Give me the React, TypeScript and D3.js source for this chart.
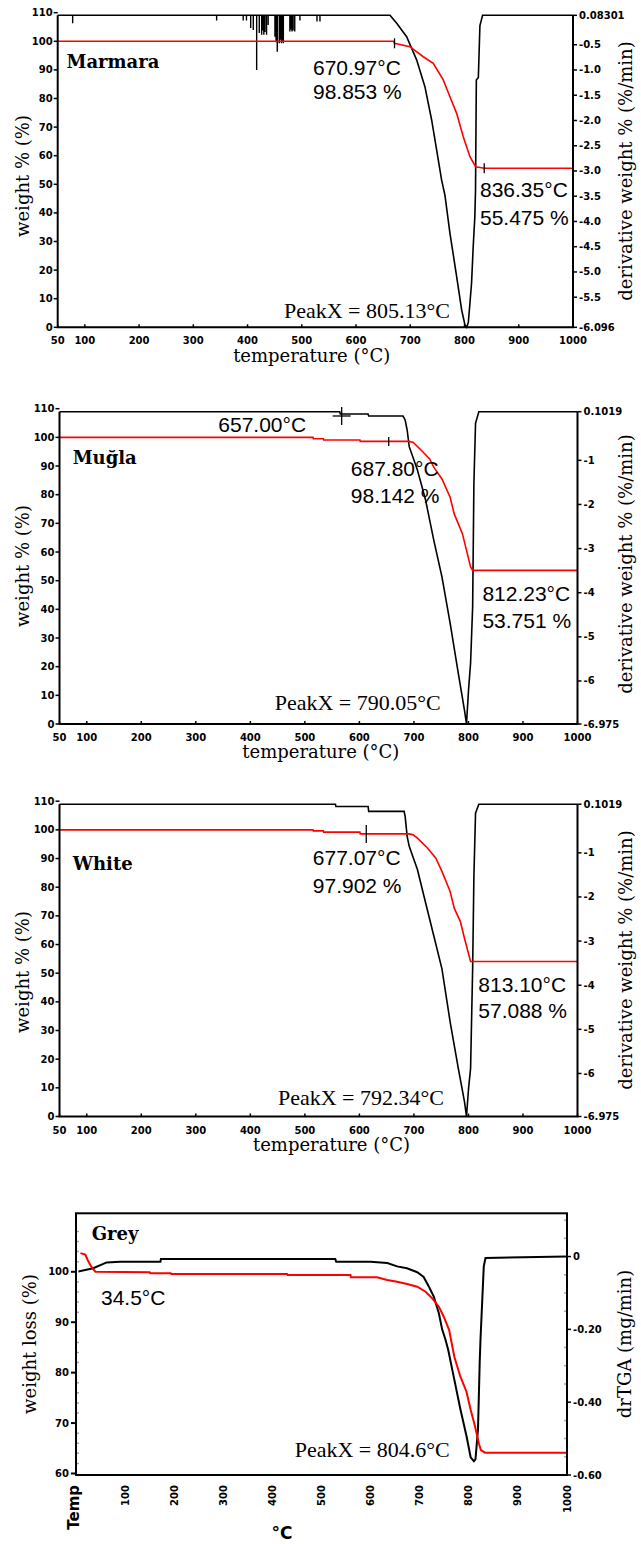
import React from 'react';
import * as d3 from 'd3';

const W = 641;
const H = 1544;

// ---------- shared ticks ----------
const tempTicks = [50, 100, 200, 300, 400, 500, 600, 700, 800, 900, 1000];
const weightTicks = [0, 10, 20, 30, 40, 50, 60, 70, 80, 90, 100, 110];

// ---------- Marmara ----------
const marmaraWeightT = [50, 669, 671, 699.3, 724, 742.3, 760.8, 773.1, 785.5, 797.7, 810, 820.5, 836.35, 1000];
const marmaraWeight = [100, 100, 99.3, 98.1, 94.6, 92.3, 86.5, 80.6, 74.8, 66.6, 59.65, 56.15, 55.6, 55.6];
const marmaraDtgT = [50, 662.6, 675, 693.3, 711.7, 727, 739.4, 748.6, 757.8, 763.9, 773.1, 785.5, 794.7, 800.8, 804, 807, 810, 813, 816, 819, 820.3, 821.8, 825.5, 828.4, 833.3, 1000];
const marmaraDtg = [0.08301, 0.08301, -0.075, -0.34, -0.8, -1.33, -1.99, -2.58, -3.18, -3.48, -4.23, -5.09, -5.75, -6.05, -6.096, -6.0, -5.62, -5.22, -4.5, -3.91, -3.38, -1.2, -1.15, -0.12, 0.08301, 0.08301];
const marmaraNoiseT = [77.6, 343, 392, 398, 405.8, 410.6, 416.8, 421.6, 426, 428, 430, 432, 435, 438, 450.5, 452.5, 454.8, 458.5, 460.5, 462.5, 464.5, 466, 478, 480, 482, 484, 487, 496.6, 528, 533.5];
const marmaraNoise = [-0.075, -0.02, -0.02, -0.02, -0.17, -0.21, -1.0, -0.27, -0.3, -0.22, -0.3, -0.25, -0.3, -0.11, -0.34, -0.45, -0.64, -0.47, -0.4, -0.47, -0.42, -0.47, -0.24, -0.2, -0.24, -0.22, -0.24, -0.02, -0.04, -0.04];
const marmaraDtgTicks = [0.08301, -0.5, -1.0, -1.5, -2.0, -2.5, -3.0, -3.5, -4.0, -4.5, -5.0, -5.5, -6.096];
const marmaraDtgLabels = ['0.08301', '-0.5', '-1.0', '-1.5', '-2.0', '-2.5', '-3.0', '-3.5', '-4.0', '-4.5', '-5.0', '-5.5', '-6.096'];
const marmaraMarkerT = [670.97, 836.35];

// ---------- Muğla ----------
const muglaWeightT = [50, 515, 515.5, 534, 534.5, 601, 601.5, 691.4, 698.8, 713.9, 728.9, 736.4, 751.4, 766.4, 773.9, 788.9, 803.9, 807.7, 1000];
const muglaWeight = [100, 100, 99.5, 99.5, 99.1, 99.1, 98.6, 98.6, 98.26, 95.4, 92.5, 89.6, 85.5, 79.1, 73.3, 66.4, 54.8, 53.6, 53.6];
const muglaDtgT = [50, 564, 565, 616, 617, 680, 683.9, 687.6, 691.4, 706.4, 721.4, 736.4, 751.4, 766.4, 781.4, 792.7, 796.4, 800.2, 803.9, 807.7, 810, 813, 819, 1000];
const muglaDtg = [0.1019, 0.1019, 0.05, 0.05, 0.004, 0.004, -0.086, -0.313, -0.69, -1.22, -1.9, -2.81, -3.64, -4.69, -5.83, -6.66, -6.975, -6.2, -5.6, -4.32, -1.52, -0.16, 0.1019, 0.1019];
const sixDtgTicks = [0.1019, -1, -2, -3, -4, -5, -6, -6.975];
const sixDtgLabels = ['0.1019', '-1', '-2', '-3', '-4', '-5', '-6', '-6.975'];
const muglaMarkerT = [653.8];
const muglaCrossT = [567.5];

// ---------- White ----------
const whiteWeightT = [50, 515, 515.5, 534, 534.5, 601, 601.5, 691.4, 698.8, 706.4, 725.2, 740.2, 751.4, 766.4, 773.9, 785.2, 792.7, 803.9, 1000];
const whiteWeight = [100, 100, 99.65, 99.65, 99.2, 99.2, 98.6, 98.6, 98.26, 97.1, 93.6, 90.1, 85.5, 78.5, 72.7, 68.0, 62.2, 54.1, 54.1];
const whiteDtgT = [50, 556, 557, 616, 617, 682, 683.9, 687.6, 691.4, 706.4, 721.4, 736.4, 751.4, 766.4, 781.4, 792.7, 796.4, 800.2, 803.9, 807.7, 810, 813, 819, 1000];
const whiteDtg = [0.1019, 0.1019, 0.05, 0.05, -0.06, -0.06, -0.176, -0.627, -0.852, -1.378, -2.13, -2.88, -3.63, -4.83, -5.886, -6.64, -6.975, -6.34, -5.89, -3.63, -1.53, -0.1, 0.1019, 0.1019];
const whiteMarkerT = [612.6];

// ---------- Grey ----------
const greyTempTicks = [100, 200, 300, 400, 500, 600, 700, 800, 900, 1000];
const greyWeightTicks = [60, 70, 80, 90, 100];
const greyDtgTicks = [0, -0.2, -0.4, -0.6];
const greyDtgLabels = ['0', '-0.20', '-0.40', '-0.60'];
const greyWeightT = [9, 19, 24, 29.5, 36, 39.7, 150, 151, 193, 194, 430, 431, 559, 560, 613, 633.8, 654, 674.5, 695, 712, 725.5, 739, 749, 760, 770.5, 782.9, 795.3, 803.9, 812, 820.4, 824.6, 833, 1000];
const greyWeight = [103.7, 103.4, 102.3, 101.3, 100.4, 100.0, 99.9, 99.7, 99.7, 99.55, 99.55, 99.36, 99.36, 98.9, 98.9, 98.37, 98.04, 97.58, 97.04, 96.05, 94.74, 93.08, 91.09, 88.45, 83.16, 79.19, 76.22, 72.59, 69.6, 65.98, 64.65, 64.12, 64.12];
const greyDtgT = [5, 35, 62.5, 90, 172, 173, 528, 530, 600, 634, 654, 674, 695, 708, 718.5, 728.7, 738.9, 745.7, 752.4, 758, 770.5, 783, 795.3, 803.9, 810.4, 813.6, 818.7, 822.2, 823.8, 830.5, 834, 1000];
const greyDtg = [-0.041, -0.032, -0.016, -0.014, -0.014, -0.007, -0.007, -0.014, -0.014, -0.018, -0.027, -0.032, -0.043, -0.056, -0.082, -0.11, -0.155, -0.2, -0.228, -0.256, -0.338, -0.42, -0.493, -0.552, -0.562, -0.557, -0.475, -0.291, -0.228, -0.027, -0.004, 0];

// ---------- styles ----------
const TICK_FONT = { fontFamily: '"DejaVu Sans", sans-serif', fontWeight: 700, fontSize: 10 };
const TITLE_FONT = { fontFamily: '"DejaVu Serif", serif', fontSize: 18 };
const NAME_FONT = { fontFamily: '"DejaVu Serif", serif', fontWeight: 700, fontSize: 18 };
const ANN_FONT = { fontFamily: '"Liberation Sans", Arial, sans-serif', fontSize: 21 };
const PEAK_FONT = { fontFamily: '"Liberation Serif", "Times New Roman", serif', fontSize: 22 };

function interp(xs: number[], ys: number[], x: number) {
  const i = d3.bisectLeft(xs, x);
  if (i <= 0) return ys[0];
  if (i >= xs.length) return ys[ys.length - 1];
  const t = (x - xs[i - 1]) / (xs[i] - xs[i - 1]);
  return ys[i - 1] + t * (ys[i] - ys[i - 1]);
}

type Ann = { text: string; x: number; y: number; peak?: boolean };

type PanelCfg = {
  left: number; right: number; top: number; bottom: number; over: number;
  wT: number[]; w: number[]; dT: number[]; d: number[];
  nT?: number[]; n?: number[];
  dtgDomain: [number, number]; dtgTicks: number[]; dtgLabels: string[];
  markers: number[]; markerHalf: number[]; crosses?: number[];
  name: string; nameX: number; nameY: number;
  anns: Ann[];
  leftTitleY: number; rightTitleY: number; bottomTitleX: number; bottomTitleY: number;
};

function TgaPanel({ c }: { c: PanelCfg }) {
  const x = d3.scaleLinear().domain([50, 1000]).range([c.left, c.right]);
  const yW = d3.scaleLinear().domain([0, 110]).range([c.bottom, c.top - c.over]);
  const yD = d3.scaleLinear().domain(c.dtgDomain).range([c.bottom, c.top]);
  const line = d3.line();
  const wPath = line(d3.zip(c.wT, c.w).map(([t, v]) => [x(t), yW(v)] as [number, number])) || '';
  const dPath = line(d3.zip(c.dT, c.d).map(([t, v]) => [x(t), yD(v)] as [number, number])) || '';
  const spikes = c.nT && c.n
    ? c.nT.map((t, i) => `M${x(t)},${yD(c.dtgDomain[1])}V${yD(c.n![i])}`).join('')
    : '';
  return (
    <g>
      <path d={dPath} fill="none" stroke="#000" strokeWidth={1.6} />
      {spikes && <path d={spikes} fill="none" stroke="#000" strokeWidth={1.4} />}
      <path d={wPath} fill="none" stroke="#ff0000" strokeWidth={1.6} />
      {c.markers.map((t, i) => {
        const yy = yW(interp(c.wT, c.w, t));
        return <line key={'m' + i} x1={x(t)} x2={x(t)} y1={yy - c.markerHalf[i]} y2={yy + c.markerHalf[i]} stroke="#000" strokeWidth={1.3} />;
      })}
      {(c.crosses || []).map((t, i) => {
        const yy = yD(interp(c.dT, c.d, t)) + 2;
        return (
          <g key={'c' + i} stroke="#000" strokeWidth={1.3}>
            <line x1={x(t)} x2={x(t)} y1={yy - 9} y2={yy + 9} />
            <line x1={x(t) - 9} x2={x(t) + 9} y1={yy} y2={yy} />
          </g>
        );
      })}
      {/* axes */}
      <path d={`M${c.left},${c.top}V${c.bottom}H${c.right}V${c.top}`} fill="none" stroke="#000" strokeWidth={2} />
      {weightTicks.map((v) => (
        <g key={'w' + v}>
          <line x1={c.left - 4} x2={c.left} y1={yW(v)} y2={yW(v)} stroke="#000" strokeWidth={1.5} />
          <text x={c.left - 5} y={yW(v)} dy="0.35em" textAnchor="end" style={TICK_FONT}>{v}</text>
        </g>
      ))}
      {tempTicks.map((t) => (
        <g key={'t' + t}>
          <line x1={x(t)} x2={x(t)} y1={c.bottom} y2={c.bottom - 3} stroke="#000" strokeWidth={1.5} />
          <text x={x(t)} y={c.bottom + 17} textAnchor="middle" style={TICK_FONT}>{t}</text>
        </g>
      ))}
      {c.dtgTicks.map((v, i) => (
        <g key={'d' + i}>
          <line x1={c.right} x2={c.right + 4} y1={yD(v)} y2={yD(v)} stroke="#000" strokeWidth={1.5} />
          <text x={c.right + 6} y={yD(v)} dy="0.35em" textAnchor="start" style={TICK_FONT}>{c.dtgLabels[i]}</text>
        </g>
      ))}
      <text transform={`translate(29,${c.leftTitleY}) rotate(-90)`} textAnchor="middle" style={TITLE_FONT}>weight % (%)</text>
      <text transform={`translate(632,${c.rightTitleY}) rotate(-90)`} textAnchor="middle" style={TITLE_FONT}>derivative weight % (%/min)</text>
      <text x={c.bottomTitleX} y={c.bottomTitleY} textAnchor="middle" style={TITLE_FONT}>temperature (°C)</text>
      <text x={c.nameX} y={c.nameY} style={NAME_FONT}>{c.name}</text>
      {c.anns.map((a, i) => (
        <text key={'a' + i} x={a.x} y={a.y} textAnchor={a.peak ? 'end' : 'start'} style={a.peak ? PEAK_FONT : ANN_FONT}>{a.text}</text>
      ))}
    </g>
  );
}

const panels: PanelCfg[] = [
  {
    left: 57.7, right: 573, top: 15.3, bottom: 327.3, over: 2.6,
    wT: marmaraWeightT, w: marmaraWeight, dT: marmaraDtgT, d: marmaraDtg,
    nT: marmaraNoiseT, n: marmaraNoise,
    dtgDomain: [-6.096, 0.08301], dtgTicks: marmaraDtgTicks, dtgLabels: marmaraDtgLabels,
    markers: marmaraMarkerT, markerHalf: [5, 5],
    name: 'Marmara', nameX: 66.5, nameY: 68,
    anns: [
      { text: '670.97°C', x: 313, y: 75 },
      { text: '98.853 %', x: 313, y: 99 },
      { text: '836.35°C', x: 480, y: 197 },
      { text: '55.475 %', x: 480, y: 225 },
      { text: 'PeakX = 805.13°C', x: 450, y: 318, peak: true },
    ],
    leftTitleY: 176, rightTitleY: 171, bottomTitleX: 311.7, bottomTitleY: 362,
  },
  {
    left: 59.5, right: 577.5, top: 411.7, bottom: 724, over: 3,
    wT: muglaWeightT, w: muglaWeight, dT: muglaDtgT, d: muglaDtg,
    dtgDomain: [-6.975, 0.1019], dtgTicks: sixDtgTicks, dtgLabels: sixDtgLabels,
    markers: muglaMarkerT, markerHalf: [4.5], crosses: muglaCrossT,
    name: 'Muğla', nameX: 72.7, nameY: 464,
    anns: [
      { text: '657.00°C', x: 218.3, y: 431.7 },
      { text: '687.80°C', x: 350.8, y: 476 },
      { text: '98.142 %', x: 350.8, y: 503.3 },
      { text: '812.23°C', x: 482.4, y: 600.7 },
      { text: '53.751 %', x: 482.4, y: 628.3 },
      { text: 'PeakX = 790.05°C', x: 440.7, y: 710, peak: true },
    ],
    leftTitleY: 566, rightTitleY: 564, bottomTitleX: 320.8, bottomTitleY: 758,
  },
  {
    left: 59.5, right: 577.5, top: 804.2, bottom: 1116.5, over: 3,
    wT: whiteWeightT, w: whiteWeight, dT: whiteDtgT, d: whiteDtg,
    dtgDomain: [-6.975, 0.1019], dtgTicks: sixDtgTicks, dtgLabels: sixDtgLabels,
    markers: whiteMarkerT, markerHalf: [9],
    name: 'White', nameX: 72.8, nameY: 870,
    anns: [
      { text: '677.07°C', x: 312.8, y: 865 },
      { text: '97.902 %', x: 312.8, y: 892.7 },
      { text: '813.10°C', x: 478.3, y: 991.7 },
      { text: '57.088 %', x: 478.3, y: 1018.3 },
      { text: 'PeakX = 792.34°C', x: 444, y: 1105, peak: true },
    ],
    leftTitleY: 972, rightTitleY: 960, bottomTitleX: 331.5, bottomTitleY: 1151,
  },
];

function GreyPanel() {
  const left = 76, right = 567, top = 1213.3, bottom = 1475;
  const x = d3.scaleLinear().domain([0, 1000]).range([left, right]);
  const yW = d3.scaleLinear().domain([59.7, 111.6]).range([bottom, top]);
  const yD = d3.scaleLinear().domain([-0.6, 0.1188]).range([bottom, top]);
  const line = d3.line();
  const wPath = line(d3.zip(greyWeightT, greyWeight).map(([t, v]) => [x(t), yW(v)] as [number, number])) || '';
  const dPath = line(d3.zip(greyDtgT, greyDtg).map(([t, v]) => [x(t), yD(v)] as [number, number])) || '';
  const minorW = d3.range(60, 111, 2).filter((v) => v % 10 !== 0);
  const minorD = d3.range(-0.55, 0.11, 0.05).filter((v) => Math.abs(Math.round(v * 5) - v * 5) > 0.01);
  return (
    <g>
      <path d={dPath} fill="none" stroke="#000" strokeWidth={2} />
      <path d={wPath} fill="none" stroke="#ff0000" strokeWidth={2} />
      <rect x={left} y={top} width={right - left} height={bottom - top} fill="none" stroke="#000" strokeWidth={2} />
      {minorW.map((v) => (
        <line key={'mw' + v} x1={left + 1} x2={left + 3} y1={yW(v)} y2={yW(v)} stroke="#aaa" strokeWidth={1.5} />
      ))}
      {minorD.map((v, i) => (
        <line key={'md' + i} x1={right - 3} x2={right - 1} y1={yD(v)} y2={yD(v)} stroke="#aaa" strokeWidth={1.5} />
      ))}
      {greyWeightTicks.map((v) => (
        <g key={'gw' + v}>
          <line x1={left - 5} x2={left} y1={yW(v)} y2={yW(v)} stroke="#000" strokeWidth={2} />
          <text x={left - 7} y={yW(v)} dy="0.35em" textAnchor="end" style={TICK_FONT}>{v}</text>
        </g>
      ))}
      {greyDtgTicks.map((v, i) => (
        <g key={'gd' + i}>
          <line x1={right} x2={right + 4} y1={yD(v)} y2={yD(v)} stroke="#000" strokeWidth={1.5} />
          <text x={right + 6} y={yD(v)} dy="0.35em" style={TICK_FONT}>{greyDtgLabels[i]}</text>
        </g>
      ))}
      {greyTempTicks.map((t) => (
        <text key={'gt' + t} transform={`translate(${x(t)},${bottom + 10}) rotate(-90)`} dy="0.35em" textAnchor="end" style={TICK_FONT}>{t}</text>
      ))}
      <text transform={`translate(${x(0) - 2},${bottom + 10}) rotate(-90)`} dy="0.35em" textAnchor="end" style={{ ...TICK_FONT, fontSize: 15 }}>Temp</text>
      <text x={282} y={1539} textAnchor="middle" style={{ fontFamily: '"DejaVu Sans", sans-serif', fontWeight: 700, fontSize: 17 }}>°C</text>
      <text transform={`translate(36,1344) rotate(-90)`} textAnchor="middle" style={TITLE_FONT}>weight loss (%)</text>
      <text transform={`translate(631,1344) rotate(-90)`} textAnchor="middle" style={TITLE_FONT}>drTGA (mg/min)</text>
      <text x={91.7} y={1240} style={NAME_FONT}>Grey</text>
      <text x={101} y={1305} style={ANN_FONT}>34.5°C</text>
      <text x={449.7} y={1457} textAnchor="end" style={PEAK_FONT}>PeakX = 804.6°C</text>
    </g>
  );
}

export default function App() {
  return (
    <svg width={W} height={H} viewBox={`0 0 ${W} ${H}`}
      style={{ position: 'absolute', left: 0, top: 0, background: '#fff', display: 'block' }}>
      <rect x={0} y={0} width={W} height={H} fill="#fff" />
      {panels.map((c, i) => <TgaPanel key={i} c={c} />)}
      <GreyPanel />
    </svg>
  );
}
